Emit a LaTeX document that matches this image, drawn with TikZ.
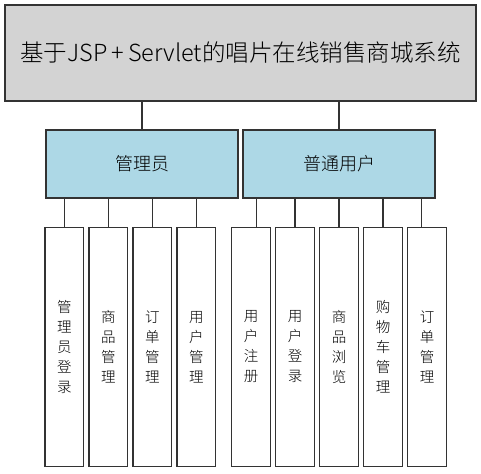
\documentclass[tikz,border=0pt]{standalone}
\usepackage{fontspec}
\newfontfamily\cjk{Noto Sans CJK SC Light}
\definecolor{topgray}{HTML}{D3D3D3}
\definecolor{midblue}{HTML}{ADD8E6}
\definecolor{edge}{HTML}{333333}
\tikzset{
  box/.style={draw=edge, line width=1.2pt, rectangle, inner sep=0pt, font=\cjk},
  topbox/.style={box, fill=topgray, minimum width=471pt, minimum height=96pt, font=\cjk\fontsize{23.5}{26}\selectfont},
  midbox/.style={box, fill=midblue, minimum width=192pt, minimum height=68pt, font=\cjk\fontsize{18}{22}\selectfont},
  leaf/.style={box, fill=white, minimum width=38.6pt, minimum height=239.4pt, align=center, font=\cjk\fontsize{14.5}{20}\selectfont},
  link/.style={draw=edge, line width=1.2pt}
}
\begin{document}
\begin{tikzpicture}[x=1pt, y=-1pt]
\useasboundingbox (0,0) rectangle (481,473);
\node[topbox] (top) at (240.5,53) {基于JSP\,+\,Servlet的唱片在线销售商城系统};
\node[midbox] (admin) at (142,164) {管理员};
\node[midbox] (user) at (339,164) {普通用户};
\node[leaf] (l1) at (64.3,347) {管\\理\\员\\登\\录};
\node[leaf] (l2) at (108.3,347) {商\\品\\管\\理};
\node[leaf] (l3) at (152.3,347) {订\\单\\管\\理};
\node[leaf] (l4) at (196.3,347) {用\\户\\管\\理};
\node[leaf] (l5) at (251,347) {用\\户\\注\\册};
\node[leaf] (l6) at (295,347) {用\\户\\登\\录};
\node[leaf] (l7) at (339,347) {商\\品\\浏\\览};
\node[leaf] (l8) at (383,347) {购\\物\\车\\管\\理};
\node[leaf] (l9) at (427,347) {订\\单\\管\\理};
\draw[link] (admin.north) -- (admin.north |- top.south);
\draw[link] (user.north) -- (user.north |- top.south);
\foreach \n in {l1,l2,l3,l4} \draw[link] (\n.north) -- (\n.north |- admin.south);
\foreach \n in {l6,l7,l8} \draw[link] (\n.north) -- (\n.north |- user.south);
\draw[link] ([xshift=5.7pt]l5.north) -- ([xshift=5.7pt]l5.north |- user.south);
\draw[link] ([xshift=-5.7pt]l9.north) -- ([xshift=-5.7pt]l9.north |- user.south);
\end{tikzpicture}
\end{document}
